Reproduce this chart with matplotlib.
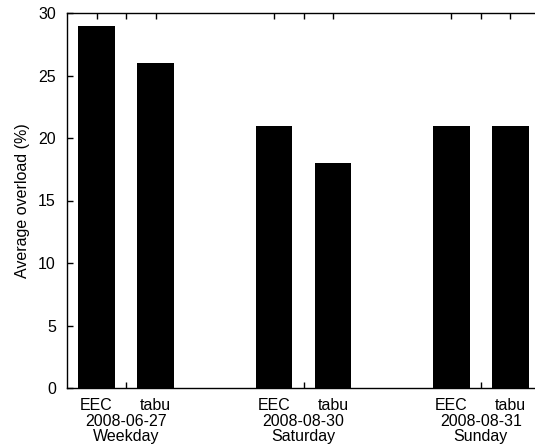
import matplotlib
matplotlib.use("Agg")
import matplotlib.pyplot as plt

plt.rcParams['font.family'] = ['Liberation Sans', 'DejaVu Sans']

days = ["2008-06-27\nWeekday", "2008-08-30\nSaturday", "2008-08-31\nSunday"]
methods = ["EEC", "tabu"]
eec_values = [29, 21, 21]
tabu_values = [26, 18, 21]

fs = 11.5
fig = plt.figure(figsize=(5.35, 4.47), dpi=100)
ax = fig.add_axes([67/535, 59/447, 473/535, 375/447])

group_step = 6
bar_w = 1.24
major_t, major_l, minor_t = [], [], []
for i, day in enumerate(days):
    base = i * group_step
    ax.bar(base, eec_values[i], width=bar_w, color='black', zorder=3)
    ax.bar(base + 2, tabu_values[i], width=bar_w, color='black', zorder=3)
    major_t += [base, base + 2]
    major_l += [methods[0], methods[1]]
    minor_t.append(base + 1)

ax.set_xlim(-1, 15)
ax.set_ylim(0, 30)
ax.set_xticks(major_t)
ax.set_xticklabels(major_l, fontsize=fs)
ax.set_xticks(minor_t, minor=True)
ax.set_xticklabels(days, minor=True, fontsize=fs, linespacing=1.0)
ax.set_yticks(range(0, 31, 5))
ax.tick_params(axis='both', which='both', direction='in', length=4, width=1,
               top=True, right=False, labelsize=fs)
ax.tick_params(axis='x', which='major', pad=7)
ax.tick_params(axis='x', which='minor', pad=18.5)
ax.tick_params(axis='y', pad=8)
ax.spines['right'].set_visible(False)
for s in ax.spines.values():
    s.set_linewidth(1)
ax.set_ylabel("Average overload (%)", fontsize=fs, labelpad=6)

fig.savefig("out.png", dpi=100)
